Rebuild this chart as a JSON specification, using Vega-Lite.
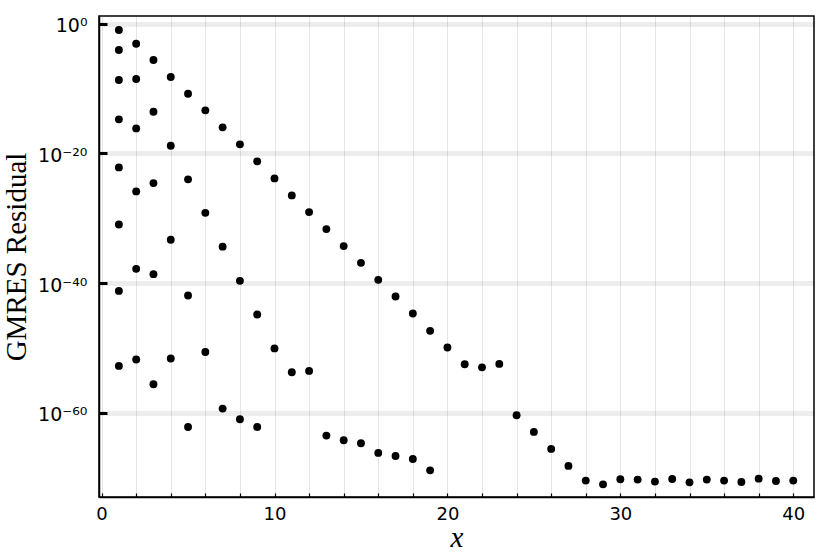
{
  "$schema": "https://vega.github.io/schema/vega-lite/v6.json",
  "width": 715,
  "height": 481,
  "autosize": {"type": "none"},
  "padding": {"left": 99, "top": 16, "right": 16, "bottom": 57},
  "background": "white",
  "config": {
    "view": {"stroke": "black", "strokeWidth": 1.5},
    "axis": {
      "labelFont": "DejaVu Sans",
      "labelFontSize": 18,
      "labelColor": "black",
      "domainColor": "black",
      "domainWidth": 1.5,
      "tickColor": "black",
      "titleFont": "Liberation Serif",
      "titleFontWeight": "normal",
      "titleColor": "black",
      "titleFontSize": 29
    }
  },
  "data": {
    "values": [
      {"x": 1, "y": 1.02e-1}, {"x": 1, "y": 8.51e-5}, {"x": 1, "y": 2.0e-9}, {"x": 1, "y": 1.74e-15},
      {"x": 1, "y": 6.92e-23}, {"x": 1, "y": 1.12e-31}, {"x": 1, "y": 6.46e-42}, {"x": 1, "y": 1.78e-53},
      {"x": 2, "y": 7.94e-4}, {"x": 2, "y": 2.88e-9}, {"x": 2, "y": 7.08e-17}, {"x": 2, "y": 1.38e-26},
      {"x": 2, "y": 1.62e-38}, {"x": 2, "y": 1.70e-52},
      {"x": 3, "y": 2.45e-6}, {"x": 3, "y": 2.63e-14}, {"x": 3, "y": 2.63e-25}, {"x": 3, "y": 2.45e-39},
      {"x": 3, "y": 2.69e-56},
      {"x": 4, "y": 5.89e-9}, {"x": 4, "y": 1.48e-19}, {"x": 4, "y": 5.01e-34}, {"x": 4, "y": 2.45e-52},
      {"x": 5, "y": 1.55e-11}, {"x": 5, "y": 1.0e-24}, {"x": 5, "y": 1.26e-42}, {"x": 5, "y": 6.92e-63},
      {"x": 6, "y": 4.27e-14}, {"x": 6, "y": 6.92e-30}, {"x": 6, "y": 2.51e-51},
      {"x": 7, "y": 1.02e-16}, {"x": 7, "y": 4.27e-35}, {"x": 7, "y": 4.68e-60},
      {"x": 8, "y": 2.45e-19}, {"x": 8, "y": 2.29e-40}, {"x": 8, "y": 1.07e-61},
      {"x": 9, "y": 5.89e-22}, {"x": 9, "y": 1.48e-45}, {"x": 9, "y": 6.92e-63},
      {"x": 10, "y": 1.38e-24}, {"x": 10, "y": 8.91e-51},
      {"x": 11, "y": 3.31e-27}, {"x": 11, "y": 1.91e-54},
      {"x": 12, "y": 8.91e-30}, {"x": 12, "y": 3.02e-54},
      {"x": 13, "y": 2.14e-32}, {"x": 13, "y": 3.24e-64},
      {"x": 14, "y": 5.13e-35}, {"x": 14, "y": 6.17e-65},
      {"x": 15, "y": 1.35e-37}, {"x": 15, "y": 2.14e-65},
      {"x": 16, "y": 3.24e-40}, {"x": 16, "y": 6.92e-67},
      {"x": 17, "y": 8.91e-43}, {"x": 17, "y": 2.34e-67},
      {"x": 18, "y": 2.09e-45}, {"x": 18, "y": 8.13e-68},
      {"x": 19, "y": 4.47e-48}, {"x": 19, "y": 1.45e-69},
      {"x": 20, "y": 1.20e-50},
      {"x": 21, "y": 3.24e-53},
      {"x": 22, "y": 1.07e-53},
      {"x": 23, "y": 3.63e-53},
      {"x": 24, "y": 4.47e-61},
      {"x": 25, "y": 1.20e-63},
      {"x": 26, "y": 2.88e-66},
      {"x": 27, "y": 6.92e-69},
      {"x": 28, "y": 3.80e-71},
      {"x": 29, "y": 1.0e-71},
      {"x": 30, "y": 6.03e-71},
      {"x": 31, "y": 5.37e-71},
      {"x": 32, "y": 2.63e-71},
      {"x": 33, "y": 6.61e-71},
      {"x": 34, "y": 2.04e-71},
      {"x": 35, "y": 5.37e-71},
      {"x": 36, "y": 3.80e-71},
      {"x": 37, "y": 2.29e-71},
      {"x": 38, "y": 7.59e-71},
      {"x": 39, "y": 3.31e-71},
      {"x": 40, "y": 3.80e-71}
    ]
  },
  "layer": [
    {
      "mark": {"type": "circle", "size": 62, "color": "black", "opacity": 1},
      "encoding": {
        "x": {
          "field": "x", "type": "quantitative",
          "scale": {"domain": [-0.15, 41.2], "nice": false, "zero": false},
          "axis": {
            "values": [0, 2, 4, 6, 8, 10, 12, 14, 16, 18, 20, 22, 24, 26, 28, 30, 32, 34, 36, 38, 40],
            "labelExpr": "datum.value % 10 === 0 ? datum.label : ''",
            "grid": true, "gridColor": "black", "gridOpacity": 0.1, "gridWidth": 1,
            "tickSize": -4, "tickWidth": 1.2, "labelPadding": 12,
            "title": "x", "titleFontStyle": "italic", "titlePadding": 0
          }
        },
        "y": {
          "field": "y", "type": "quantitative",
          "scale": {"type": "log", "domain": [1.12e-73, 14.8], "nice": false},
          "axis": {
            "orient": "left",
            "values": [1, 1e-20, 1e-40, 1e-60],
            "labelExpr": "datum.value > 0.5 ? '10⁰' : datum.value > 1e-30 ? '10⁻²⁰' : datum.value > 1e-50 ? '10⁻⁴⁰' : '10⁻⁶⁰'",
            "labelFontSize": 19,
            "grid": true, "gridColor": "black", "gridOpacity": 0.07, "gridWidth": 5,
            "ticks": false, "labelPadding": 12, "labelOffset": 2,
            "title": "GMRES Residual", "titlePadding": 6
          }
        }
      }
    },
    {
      "mark": {"type": "point", "opacity": 0},
      "encoding": {
        "y": {
          "field": "y", "type": "quantitative",
          "scale": {"type": "log", "domain": [1.12e-73, 14.8], "nice": false},
          "axis": {
            "orient": "right", "offset": -715,
            "values": [1, 1e-20, 1e-40, 1e-60],
            "grid": false, "labels": false, "domain": false, "title": null,
            "ticks": true, "tickSize": 8, "tickWidth": 3, "tickColor": "black"
          }
        }
      }
    }
  ],
  "resolve": {"axis": {"y": "independent"}}
}
